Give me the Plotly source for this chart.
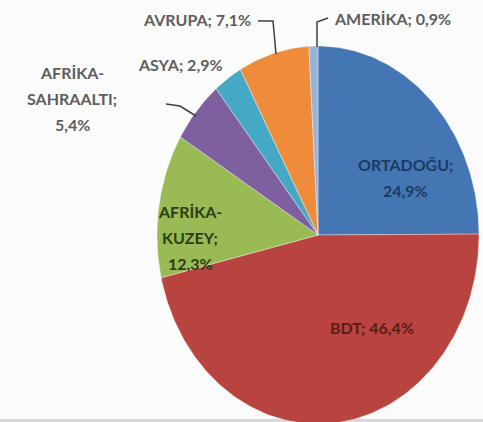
import numpy as np
import plotly.graph_objects as go

regions = ["ORTADOĞU", "BDT", "AFRİKA-KUZEY", "AFRİKA-SAHRAALTI", "ASYA", "AVRUPA", "AMERİKA"]
shares = [24.9, 46.4, 12.3, 5.4, 2.9, 7.1, 0.9]
colors = ["#4476b4", "#b9433f", "#99ba55", "#7e5fa0", "#45a8c4", "#ee8c3c", "#98b4d9"]

# label lines as in the chart
label_lines = [
    ["ORTADOĞU;", "24,9%"],
    ["BDT; 46,4%"],
    ["AFRİKA-", "KUZEY;", "12,3%"],
    ["AFRİKA-", "SAHRAALTI;", "5,4%"],
    ["ASYA; 2,9%"],
    ["AVRUPA; 7,1%"],
    ["AMERİKA; 0,9%"],
]
# centre of the first line, in pixels
label_pos = [(405, 164), (372, 327), (190, 211), (72, 72), (180, 64), (197, 19), (392, 18)]
label_color = ["#1d3a63", "#5a1c19", "#2e3d12", "#5e5e5e", "#5e5e5e", "#5e5e5e", "#5e5e5e"]
line_step = 26

# pie is a vertically stretched circle
cx, cy, rx, ry = 318, 235, 161, 189

fig = go.Figure()

total = sum(shares)
start = 0.0
for name, val, col in zip(regions, shares, colors):
    a0 = start / total * 2 * np.pi
    a1 = (start + val) / total * 2 * np.pi
    t = np.linspace(a0, a1, max(4, int(val * 4)))
    xs = [cx] + list(cx + rx * np.sin(t)) + [cx]
    ys = [cy] + list(cy - ry * np.cos(t)) + [cy]
    fig.add_trace(go.Scatter(
        x=xs, y=ys, mode="lines", fill="toself", fillcolor=col,
        line=dict(color="rgba(255,255,255,0.6)", width=0.6),
        name=name, hoverinfo="name", showlegend=False,
    ))
    start += val

for lines, (lx, ly), lc in zip(label_lines, label_pos, label_color):
    for i, ln in enumerate(lines):
        fig.add_annotation(
            x=lx, y=ly + i * line_step, text="<b>" + ln + "</b>", showarrow=False,
            font=dict(family="Lato, Open Sans, sans-serif", size=16, color=lc),
            align="center",
        )

# leader lines
leaders = [
    "M 258 21 L 273 21 L 276 54",
    "M 328 18 L 317 22 L 317 47",
    "M 166 104 L 180 106 L 196 116",
]
for p in leaders:
    fig.add_shape(type="path", path=p, line=dict(color="#3f3f3f", width=1.5))

# faint grey strip at the bottom edge
fig.add_shape(type="rect", x0=0, x1=483, y0=419, y1=422,
              fillcolor="#d9d9d9", line=dict(width=0), layer="below")

fig.update_layout(
    width=483, height=422,
    margin=dict(l=0, r=0, t=0, b=0),
    paper_bgcolor="#fbfbfb", plot_bgcolor="#fbfbfb",
    xaxis=dict(range=[0, 483], visible=False, fixedrange=True),
    yaxis=dict(range=[422, 0], visible=False, fixedrange=True),
    showlegend=False,
)

fig.write_html("out.html", config={"displayModeBar": False},
               post_script="document.body.style.margin='0';")
